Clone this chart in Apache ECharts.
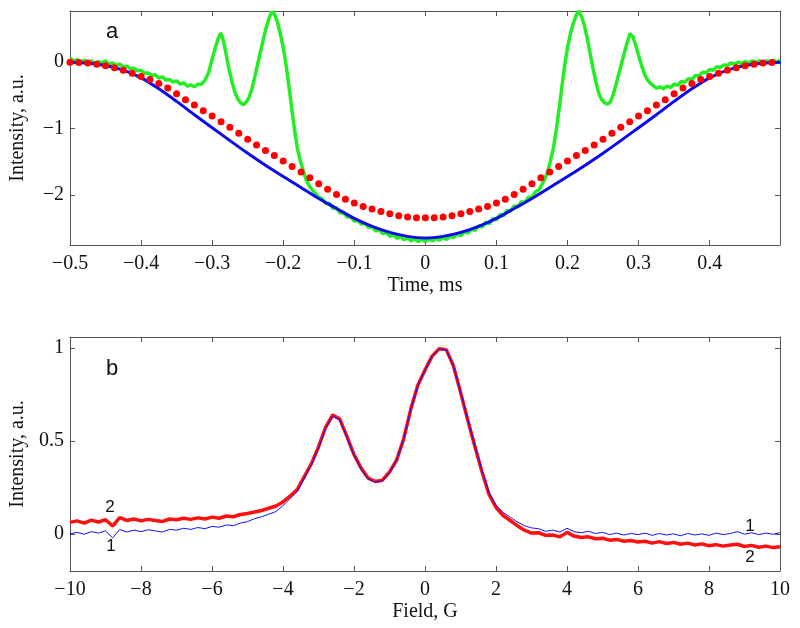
<!DOCTYPE html>
<html>
<head>
<meta charset="utf-8">
<script src="https://cdn.jsdelivr.net/npm/echarts@6/dist/echarts.min.js"></script>
<style>
html,body{margin:0;padding:0;background:#fff;}
#chart{width:800px;height:628px;}
</style>
</head>
<body>
<div id="chart"></div>
<script>
// ---------- Panel a : time traces ----------
// green: measured signal, [time ms, intensity]
const greenPts = [
[-0.5,0.06],[-0.495,0.02],[-0.49,0.04],[-0.485,0.0],[-0.48,0.03],[-0.475,-0.01],[-0.47,0.02],[-0.465,-0.02],[-0.46,0.01],[-0.455,-0.01],
[-0.45,0.02],[-0.445,-0.03],[-0.44,-0.01],[-0.435,-0.05],[-0.43,-0.03],[-0.425,-0.07],[-0.42,-0.06],[-0.415,-0.1],[-0.41,-0.09],[-0.405,-0.13],
[-0.4,-0.12],[-0.395,-0.17],[-0.39,-0.16],[-0.385,-0.2],[-0.38,-0.19],[-0.375,-0.24],[-0.37,-0.22],[-0.365,-0.27],[-0.36,-0.26],[-0.355,-0.3],
[-0.35,-0.28],[-0.345,-0.33],[-0.34,-0.31],[-0.335,-0.36],[-0.33,-0.34],[-0.325,-0.37],[-0.32,-0.33],[-0.315,-0.33],[-0.31,-0.27],[-0.305,-0.16],
[-0.3,0.05],[-0.296,0.2],[-0.292,0.34],[-0.288,0.44],[-0.284,0.32],[-0.28,0.1],[-0.276,-0.12],[-0.272,-0.3],[-0.268,-0.45],[-0.264,-0.55],
[-0.26,-0.61],[-0.256,-0.64],[-0.252,-0.6],[-0.248,-0.53],[-0.244,-0.4],[-0.24,-0.22],[-0.236,-0.03],[-0.232,0.16],[-0.228,0.34],[-0.224,0.52],
[-0.22,0.66],[-0.216,0.76],[-0.212,0.72],[-0.208,0.6],[-0.204,0.42],[-0.2,0.22],[-0.196,-0.04],[-0.192,-0.36],[-0.188,-0.7],[-0.184,-1.02],
[-0.18,-1.3],[-0.176,-1.48],[-0.172,-1.63],[-0.168,-1.76],[-0.164,-1.85],[-0.16,-1.91],[-0.155,-1.97],[-0.15,-2.03],[-0.145,-2.06],[-0.14,-2.13],
[-0.135,-2.12],[-0.13,-2.2],[-0.125,-2.19],[-0.12,-2.27],[-0.115,-2.26],[-0.11,-2.33],[-0.105,-2.32],[-0.1,-2.39],[-0.095,-2.38],[-0.09,-2.44],
[-0.085,-2.42],[-0.08,-2.49],[-0.075,-2.47],[-0.07,-2.54],[-0.065,-2.52],[-0.06,-2.58],[-0.055,-2.56],[-0.05,-2.62],[-0.045,-2.59],[-0.04,-2.65],
[-0.035,-2.62],[-0.03,-2.67],[-0.025,-2.64],[-0.02,-2.69],[-0.015,-2.65],[-0.01,-2.7],[-0.005,-2.66],[0,-2.7],
[0.005,-2.66],[0.01,-2.69],[0.015,-2.65],[0.02,-2.68],[0.025,-2.63],[0.03,-2.67],[0.035,-2.61],[0.04,-2.64],[0.045,-2.58],[0.05,-2.61],
[0.055,-2.55],[0.06,-2.57],[0.065,-2.51],[0.07,-2.53],[0.075,-2.46],[0.08,-2.48],[0.085,-2.41],[0.09,-2.43],[0.095,-2.35],[0.1,-2.37],
[0.105,-2.29],[0.11,-2.31],[0.115,-2.23],[0.12,-2.24],[0.125,-2.16],[0.13,-2.18],[0.135,-2.1],[0.14,-2.11],[0.145,-2.03],[0.15,-2.03],
[0.155,-1.95],[0.16,-1.92],[0.164,-1.84],[0.168,-1.76],[0.172,-1.65],[0.176,-1.48],[0.18,-1.3],[0.184,-1.03],[0.188,-0.72],[0.192,-0.38],
[0.196,-0.05],[0.2,0.22],[0.204,0.42],[0.208,0.58],[0.212,0.7],[0.216,0.77],[0.22,0.68],[0.224,0.54],[0.228,0.35],[0.232,0.12],
[0.236,-0.1],[0.24,-0.3],[0.244,-0.47],[0.248,-0.56],[0.252,-0.61],[0.256,-0.63],[0.26,-0.6],[0.264,-0.5],[0.268,-0.35],[0.272,-0.18],
[0.276,-0.02],[0.28,0.14],[0.284,0.3],[0.288,0.43],[0.292,0.38],[0.296,0.26],[0.3,0.1],[0.304,-0.04],[0.308,-0.17],[0.312,-0.26],
[0.316,-0.31],[0.32,-0.35],[0.325,-0.39],[0.33,-0.37],[0.335,-0.4],[0.34,-0.36],[0.345,-0.38],[0.35,-0.33],[0.355,-0.35],[0.36,-0.29],
[0.365,-0.3],[0.37,-0.25],[0.375,-0.26],[0.38,-0.2],[0.385,-0.21],[0.39,-0.15],[0.395,-0.16],[0.4,-0.11],[0.405,-0.12],[0.41,-0.07],
[0.415,-0.08],[0.42,-0.04],[0.425,-0.05],[0.43,-0.01],[0.435,-0.03],[0.44,0.0],[0.445,-0.02],[0.45,0.01],[0.455,-0.01],[0.46,0.02],
[0.465,0.0],[0.47,0.02],[0.475,-0.01],[0.48,0.02],[0.485,0.0],[0.49,0.03],[0.495,-0.01],[0.499,0.04]
];
// blue: smooth model curve
const blueTime = [-0.5,-0.475,-0.45,-0.425,-0.4,-0.375,-0.35,-0.325,-0.3,-0.275,-0.25,-0.225,-0.2,-0.175,-0.15,-0.125,-0.1,-0.075,-0.05,-0.025,
0,0.025,0.05,0.075,0.1,0.125,0.15,0.175,0.2,0.225,0.25,0.275,0.3,0.325,0.35,0.375,0.4,0.425,0.45,0.475,0.5];
const blueVals = [0,-0.015,-0.05,-0.12,-0.235,-0.4,-0.59,-0.79,-0.985,-1.18,-1.37,-1.55,-1.72,-1.885,-2.05,-2.2,-2.35,-2.47,-2.56,-2.62,
-2.645,-2.62,-2.56,-2.47,-2.35,-2.2,-2.05,-1.885,-1.72,-1.55,-1.37,-1.18,-0.985,-0.79,-0.59,-0.4,-0.235,-0.12,-0.05,-0.015,0];
// red: dotted model curve
const redTime = [-0.5,-0.4875,-0.475,-0.4625,-0.45,-0.4375,-0.425,-0.4125,-0.4,-0.3875,-0.375,-0.3625,-0.35,-0.3375,-0.325,-0.3125,
-0.3,-0.2875,-0.275,-0.2625,-0.25,-0.2375,-0.225,-0.2125,-0.2,-0.1875,-0.175,-0.1625,-0.15,-0.1375,-0.125,-0.1125,
-0.1,-0.0875,-0.075,-0.0625,-0.05,-0.0375,-0.025,-0.0125,0,0.0125,0.025,0.0375,0.05,0.0625,0.075,0.0875,
0.1,0.1125,0.125,0.1375,0.15,0.1625,0.175,0.1875,0.2,0.2125,0.225,0.2375,0.25,0.2625,0.275,0.2875,
0.3,0.3125,0.325,0.3375,0.35,0.3625,0.375,0.3875,0.4,0.4125,0.425,0.4375,0.45,0.4625,0.475,0.4875];
const redVals = [0,-0.004,-0.014,-0.03,-0.055,-0.085,-0.12,-0.165,-0.215,-0.26,-0.32,-0.39,-0.475,-0.565,-0.645,-0.73,
-0.81,-0.895,-0.98,-1.07,-1.16,-1.245,-1.33,-1.405,-1.485,-1.57,-1.65,-1.74,-1.83,-1.91,-1.99,-2.06,
-2.12,-2.17,-2.21,-2.245,-2.28,-2.31,-2.33,-2.34,-2.34,-2.34,-2.33,-2.31,-2.28,-2.245,-2.21,-2.17,
-2.12,-2.06,-1.99,-1.91,-1.83,-1.74,-1.65,-1.57,-1.485,-1.405,-1.33,-1.245,-1.16,-1.07,-0.98,-0.895,
-0.81,-0.73,-0.645,-0.565,-0.475,-0.39,-0.32,-0.26,-0.215,-0.165,-0.12,-0.085,-0.055,-0.03,-0.014,-0.004];
const xTicksA = {min: -0.5, max: 0.499, step: 0.1};

// ---------- Panel b : field spectra ----------
const fieldG = [-10,-9.8,-9.6,-9.4,-9.2,-9,-8.8,-8.6,-8.4,-8.2,-8,-7.8,-7.6,-7.4,-7.2,-7,-6.8,-6.6,-6.4,-6.2,
-6,-5.8,-5.6,-5.4,-5.2,-5,-4.8,-4.6,-4.4,-4.2,-4,-3.8,-3.6,-3.4,-3.2,-3,-2.8,-2.6,-2.4,-2.2,
-2,-1.8,-1.6,-1.4,-1.2,-1,-0.8,-0.6,-0.4,-0.2,0,0.2,0.4,0.6,0.8,1,1.2,1.4,1.6,1.8,
2,2.2,2.4,2.6,2.8,3,3.2,3.4,3.6,3.8,4,4.2,4.4,4.6,4.8,5,5.2,5.4,5.6,5.8,
6,6.2,6.4,6.6,6.8,7,7.2,7.4,7.6,7.8,8,8.2,8.4,8.6,8.8,9,9.2,9.4,9.6,9.8,10];
const spec1 = [0,0.008,-0.002,0.012,0.004,0.016,-0.022,0.024,0.01,0.02,0.012,0.022,0.016,0.01,0.024,0.02,0.03,0.024,0.034,0.028,
0.04,0.036,0.048,0.044,0.058,0.066,0.082,0.092,0.106,0.12,0.152,0.19,0.228,0.3,0.372,0.462,0.568,0.634,0.612,0.52,
0.422,0.35,0.296,0.278,0.286,0.33,0.395,0.51,0.67,0.8,0.88,0.955,0.995,0.99,0.905,0.765,0.62,0.48,0.345,0.225,
0.155,0.115,0.09,0.064,0.044,0.032,0.028,0.014,0.02,0.01,0.03,0.012,0.006,0.014,0.002,0.008,-0.004,0.004,-0.006,0.002,
-0.004,0.004,-0.008,0.002,-0.006,0,-0.01,0.002,-0.006,0,-0.008,0.004,-0.004,0.002,0.012,-0.002,0.006,-0.004,0.004,-0.002,0.006];
const spec2 = [0.062,0.07,0.058,0.074,0.064,0.076,0.042,0.088,0.072,0.08,0.07,0.078,0.072,0.066,0.08,0.076,0.084,0.078,0.086,0.08,
0.09,0.084,0.096,0.092,0.104,0.11,0.118,0.126,0.138,0.15,0.172,0.204,0.238,0.308,0.378,0.468,0.574,0.64,0.618,0.525,
0.427,0.354,0.3,0.282,0.289,0.333,0.397,0.512,0.672,0.802,0.882,0.957,0.997,0.992,0.905,0.763,0.616,0.474,0.337,0.214,
0.142,0.099,0.072,0.044,0.02,0.004,0.006,-0.008,-0.006,-0.016,0.008,-0.012,-0.02,-0.016,-0.026,-0.024,-0.034,-0.03,-0.04,-0.036,
-0.044,-0.04,-0.05,-0.042,-0.052,-0.046,-0.056,-0.05,-0.06,-0.054,-0.064,-0.058,-0.066,-0.06,-0.056,-0.068,-0.062,-0.072,-0.066,-0.074,-0.07];

// ---------- build ----------
const zip = (xs, ys) => xs.map((x, i) => [x, ys[i]]);
const minus = v => { const r = Math.round(v * 1000) / 1000; return (r < 0 ? '\u2212' : '') + Math.abs(r); };
const SERIF = '"Liberation Serif", "Times New Roman", serif';
const SANS = '"Liberation Sans", Arial, sans-serif';
const frame = {color: '#555', width: 1};
const lblStyle = {color: '#111', fontFamily: SERIF, fontSize: 20, formatter: minus};
const nameStyle = {color: '#111', fontFamily: SERIF, fontSize: 20};

function xMain(grid, min, max, interval, name, hideMax) {
  return {type: 'value', gridIndex: grid, position: 'bottom', min, max, interval,
    name, nameLocation: 'middle', nameGap: 31, nameTextStyle: nameStyle,
    axisLine: {show: true, onZero: false, lineStyle: frame},
    axisTick: {show: true, inside: true, length: 5, lineStyle: frame},
    axisLabel: Object.assign({margin: 9, showMaxLabel: !hideMax}, lblStyle),
    splitLine: {show: false}};
}
function xTop(grid, min, max, interval) {
  return {type: 'value', gridIndex: grid, position: 'top', min, max, interval,
    axisLine: {show: true, onZero: false, lineStyle: frame},
    axisTick: {show: true, inside: true, length: 5, lineStyle: frame},
    axisLabel: {show: false}, splitLine: {show: false}};
}
function yMain(grid, min, max, step, name) {
  return {type: 'value', gridIndex: grid, position: 'left', min, max, minInterval: step, maxInterval: step,
    name, nameLocation: 'middle', nameGap: 42, nameTextStyle: nameStyle,
    axisLine: {show: true, onZero: false, lineStyle: frame},
    axisTick: {show: true, inside: true, length: 5, lineStyle: frame},
    axisLabel: Object.assign({margin: 6, showMinLabel: false, showMaxLabel: false}, lblStyle),
    splitLine: {show: false}};
}
function yRight(grid, min, max, step) {
  return {type: 'value', gridIndex: grid, position: 'right', min, max, minInterval: step, maxInterval: step,
    axisLine: {show: true, onZero: false, lineStyle: frame},
    axisTick: {show: true, inside: true, length: 5, lineStyle: frame},
    axisLabel: {show: false}, splitLine: {show: false}};
}

const chart = echarts.init(document.getElementById('chart'), null, {renderer: 'canvas'});
const txt = (t, x, y, size) => ({type: 'text', x, y, silent: true,
  style: {text: t, font: size + 'px ' + SANS, fill: '#111', align: 'center', verticalAlign: 'middle'}});

chart.setOption({
  animation: false,
  backgroundColor: '#fff',
  grid: [
    {left: 70, top: 11, width: 710, height: 234, outerBoundsMode: 'none'},
    {left: 70, top: 337, width: 710, height: 234, outerBoundsMode: 'none'}
  ],
  xAxis: [
    xMain(0, xTicksA.min, xTicksA.max, xTicksA.step, 'Time, ms', true),
    xTop(0, xTicksA.min, xTicksA.max, xTicksA.step),
    xMain(1, -10, 10, 2, 'Field, G', false),
    xTop(1, -10, 10, 2)
  ],
  yAxis: [
    yMain(0, -2.75, 0.77, 1, 'Intensity, a.u.'),
    yRight(0, -2.75, 0.77, 1),
    yMain(1, -0.2, 1.06, 0.5, 'Intensity, a.u.'),
    yRight(1, -0.2, 1.06, 0.5)
  ],
  series: [
    {type: 'line', xAxisIndex: 0, yAxisIndex: 0, data: greenPts, showSymbol: false,
      lineStyle: {color: '#22ee22', width: 3.5}, z: 2},
    {type: 'line', xAxisIndex: 0, yAxisIndex: 0, data: zip(blueTime, blueVals), showSymbol: false, smooth: 0.3,
      lineStyle: {color: '#0a0af0', width: 3}, z: 3},
    {type: 'scatter', xAxisIndex: 0, yAxisIndex: 0, data: zip(redTime, redVals), symbol: 'circle', symbolSize: 7,
      itemStyle: {color: '#ff0000', opacity: 1}, z: 4},
    {type: 'line', xAxisIndex: 2, yAxisIndex: 2, data: zip(fieldG, spec2), showSymbol: false,
      lineStyle: {color: '#ff1010', width: 3.5}, z: 2},
    {type: 'line', xAxisIndex: 2, yAxisIndex: 2, data: zip(fieldG, spec1), showSymbol: false,
      lineStyle: {color: '#1010ff', width: 1}, z: 3}
  ],
  graphic: [
    txt('a', 112, 32, 22),
    txt('b', 112, 369, 22),
    txt('2', 110, 507, 17),
    txt('1', 111, 546, 17),
    txt('1', 750, 526, 17),
    txt('2', 750, 557, 17)
  ]
});
</script>
</body>
</html>
